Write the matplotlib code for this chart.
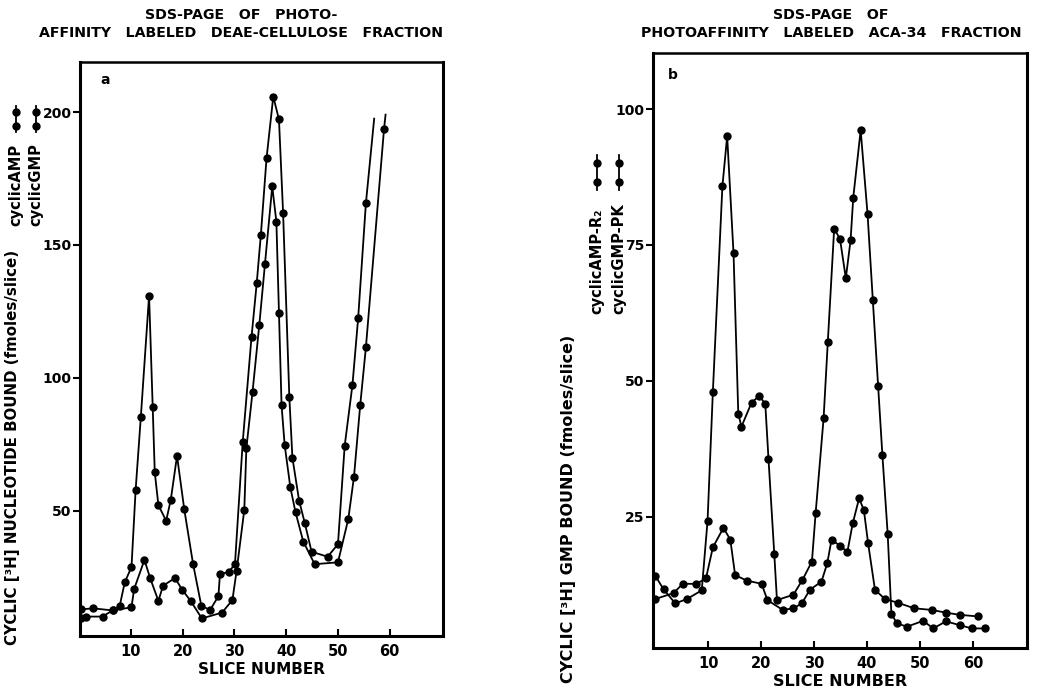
import matplotlib
matplotlib.use("Agg")
import matplotlib.pyplot as plt
from matplotlib.lines import Line2D

# ---------------- data ----------------
# Panel a: SDS-PAGE of photoaffinity labeled DEAE-cellulose fraction
a_amp_slice = [0.3, 1.4, 4.5, 6.6, 7.8, 8.8, 10.1, 10.9, 11.9, 13.5, 14.2, 14.6, 15.3, 16.8,
               17.7, 18.9, 20.3, 22.0, 23.6, 25.3, 26.9, 27.2, 28.9, 30.1, 31.6, 33.3, 34.3,
               35.1, 36.2, 37.5, 38.6, 39.4, 40.6, 41.2, 42.5, 43.6, 44.9, 48.0, 50.0, 51.3,
               52.8, 53.9, 55.4, 57.0]
a_amp_value = [9.8, 10.3, 10.3, 12.8, 14.1, 23.2, 28.9, 57.9, 85.2, 131, 89, 64.5, 52.2, 46.3,
               54.3, 70.7, 50.6, 30.1, 14.3, 12.8, 18, 26.4, 27, 30.1, 76, 115.5, 135.6,
               153.8, 182.6, 205.8, 197.2, 162, 93, 70, 53.8, 45.4, 34.7, 32.8, 37.5, 74.5,
               97.4, 122.4, 165.7, 197.5]
a_gmp_slice = [0.3, 2.7, 6.5, 10.1, 10.6, 12.6, 13.7, 15.3, 16.2, 18.5, 19.9, 21.6, 23.7, 27.6,
               29.6, 30.4, 31.9, 32.3, 33.5, 34.8, 35.9, 37.3, 38.1, 38.6, 39.1, 39.7, 40.8,
               41.8, 43.3, 45.5, 50.0, 52.0, 53.1, 54.3, 55.4, 58.9, 59.2]
a_gmp_value = [13, 13.4, 12.6, 13.8, 20.6, 31.6, 24.8, 16.2, 21.9, 24.8, 20.4, 16, 9.6, 11.8,
               16.5, 27.3, 50.4, 73.6, 94.9, 120, 143, 172, 158.8, 124.5, 89.8, 74.8, 58.9,
               49.5, 38.5, 30, 30.7, 47, 62.9, 89.8, 111.5, 193.5, 199]

# Panel b: SDS-PAGE of photoaffinity labeled ACA-34 fraction
b_r2_slice = [0.0, 1.6, 3.8, 6.0, 8.8, 9.9, 10.9, 12.7, 13.6, 14.8, 15.7, 16.3, 18.2, 19.7,
              20.8, 21.4, 22.5, 23.0, 26.1, 27.8, 29.6, 30.3, 31.8, 32.6, 33.8, 34.9, 36.0,
              36.9, 37.4, 38.8, 40.1, 41.1, 42.1, 42.9, 43.9, 44.6, 45.6, 47.5, 50.6, 52.5,
              54.9, 57.5, 59.8, 62.3]
b_r2_value = [14.2, 11.7, 9.1, 9.9, 11.5, 24.3, 48, 85.8, 95, 73.5, 44, 41.6, 46, 47.3,
              45.7, 35.7, 18.1, 9.7, 10.7, 13.4, 16.8, 25.7, 43.1, 57.2, 78, 76.1, 68.9,
              75.9, 83.7, 96.1, 80.7, 64.8, 49, 36.4, 21.9, 7.2, 5.5, 4.8, 5.9, 4.5,
              5.8, 5.1, 4.5, 4.5]
b_pk_slice = [0.0, 3.5, 5.2, 7.8, 9.6, 10.9, 12.9, 14.2, 15.1, 17.3, 20.1, 21.2, 24.1, 26.1,
              27.7, 29.2, 31.4, 32.5, 33.3, 34.9, 36.3, 37.3, 38.5, 39.4, 40.2, 41.5, 43.4,
              45.9, 48.9, 52.2, 54.9, 57.5, 61.0]
b_pk_value = [9.9, 11.0, 12.7, 12.7, 13.7, 19.4, 23.0, 20.8, 14.3, 13.3, 12.7, 9.7, 7.9, 8.2,
              9.1, 11.6, 13.1, 16.5, 20.8, 19.7, 18.6, 23.8, 28.4, 26.3, 20.2, 11.6, 9.9,
              9.2, 8.2, 7.9, 7.4, 7.0, 6.7]

x_ticks = [10, 20, 30, 40, 50, 60]
a_y_ticks = [50, 100, 150, 200]
b_y_ticks = [25, 50, 75, 100]

# ---------------- figure ----------------
W, H = 1041, 695
fig = plt.figure(figsize=(W / 100, H / 100), dpi=100)
fig.patch.set_facecolor("white")
FONT = "DejaVu Sans"


def fx(px):
    return px / W


def fy(py):
    return 1 - py / H


def style_axes(ax, yticks, xlim, ylim):
    ax.set_xlim(*xlim)
    ax.set_ylim(*ylim)
    ax.set_xticks(x_ticks)
    ax.set_yticks(yticks)
    ax.tick_params(axis="x", direction="in", length=5, width=1.5, labelsize=10.5, pad=6)
    ax.tick_params(axis="y", direction="out", length=5, width=1.5, labelsize=10, pad=1)
    for lab in ax.get_xticklabels() + ax.get_yticklabels():
        lab.set_fontweight("bold")
        lab.set_family(FONT)
    for side in ["left", "right", "bottom"]:
        ax.spines[side].set_linewidth(2.2)
    ax.spines["top"].set_linewidth(1.8)


def plot_series(ax, xs, ys, stub=False):
    n = len(xs)
    me = list(range(n - 1)) if stub else None
    ax.plot(xs, ys, color="black", lw=1.3, marker="o", ms=5, markevery=me)


# Panel a
axa = fig.add_axes([fx(80), fy(636), fx(443) - fx(80), fy(62) - fy(636)])
plot_series(axa, a_amp_slice, a_amp_value, stub=True)
plot_series(axa, a_gmp_slice, a_gmp_value, stub=True)
style_axes(axa, a_y_ticks, (0.15, 70.3), (3.0, 218.8))
axa.text(0.055, 0.98, "a", transform=axa.transAxes, fontsize=10, fontweight="bold",
         ha="left", va="top", family=FONT)
axa.set_xlabel("SLICE NUMBER", fontsize=11, fontweight="bold", family=FONT, labelpad=2)

# Panel b
axb = fig.add_axes([fx(653), fy(648), fx(1027) - fx(653), fy(53) - fy(648)])
plot_series(axb, b_r2_slice, b_r2_value)
plot_series(axb, b_pk_slice, b_pk_value)
style_axes(axb, b_y_ticks, (-0.4, 70.2), (0.9, 110.3))
axb.text(0.04, 0.975, "b", transform=axb.transAxes, fontsize=10, fontweight="bold",
         ha="left", va="top", family=FONT)
axb.set_xlabel("SLICE NUMBER", fontsize=11.5, fontweight="bold", family=FONT, labelpad=2)

# titles
fig.text(fx(241), fy(24), "SDS-PAGE   OF   PHOTO-\nAFFINITY   LABELED   DEAE-CELLULOSE   FRACTION",
         ha="center", va="center", multialignment="center", fontsize=10.2,
         fontweight="bold", family=FONT, linespacing=1.3)
fig.text(fx(831), fy(24), "SDS-PAGE   OF\nPHOTOAFFINITY   LABELED   ACA-34   FRACTION",
         ha="center", va="center", multialignment="center", fontsize=10.2,
         fontweight="bold", family=FONT, linespacing=1.3)

# y labels
fig.text(fx(13), fy(447), "CYCLIC [³H] NUCLEOTIDE BOUND (fmoles/slice)", rotation=90,
         ha="center", va="center", fontsize=10.8, fontweight="bold", family=FONT)
fig.text(fx(568), fy(509), "CYCLIC [³H] GMP BOUND (fmoles/slice)", rotation=90,
         ha="center", va="center", fontsize=11.5, fontweight="bold", family=FONT)


# rotated legends (text reading upward, sample line with dots above text)
def legend_item(xc, text_bottom, sym_y0, sym_y1, label):
    fig.text(fx(xc), fy(text_bottom), label, rotation=90, ha="center", va="bottom",
             fontsize=10.5, fontweight="bold", family=FONT)
    fig.add_artist(Line2D([fx(xc), fx(xc)], [fy(sym_y0), fy(sym_y1)], color="black",
                          lw=1.3, transform=fig.transFigure))
    d = (sym_y1 - sym_y0) * 0.22
    fig.add_artist(Line2D([fx(xc), fx(xc)], [fy(sym_y0 + d), fy(sym_y1 - d)], color="black",
                          lw=0, marker="o", ms=5, transform=fig.transFigure))


legend_item(16, 226, 132, 106, "cyclicAMP")
legend_item(36, 226, 132, 106, "cyclicGMP")
legend_item(597, 314, 190, 155, "cyclicAMP-R₂")
legend_item(619, 314, 190, 155, "cyclicGMP-PK")

fig.savefig("out.png", dpi=100, facecolor="white")
